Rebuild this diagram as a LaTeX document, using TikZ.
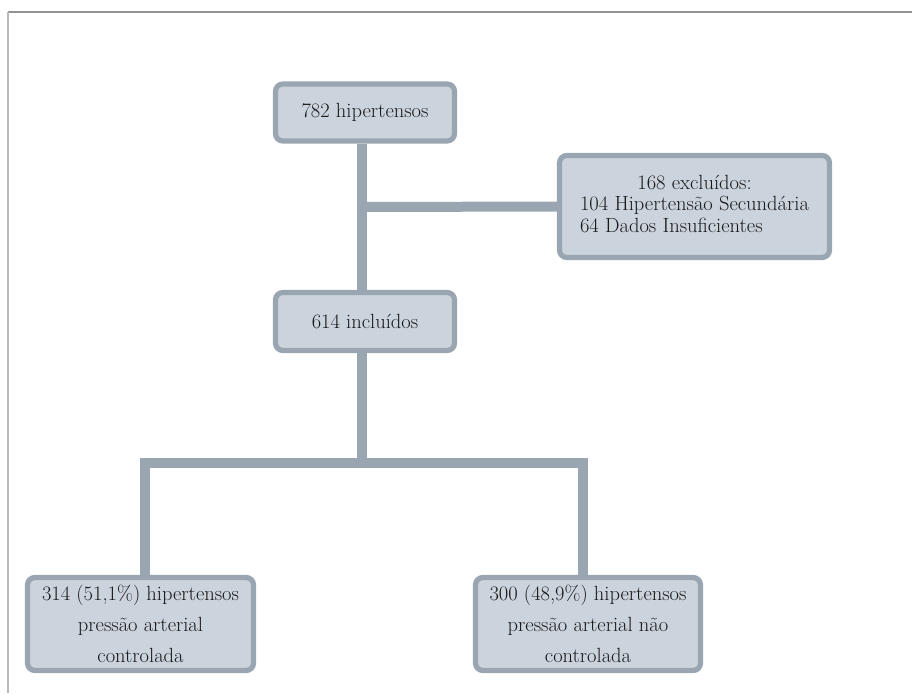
\documentclass[tikz,border=0pt]{standalone}
\usepackage{fontspec}
\setmainfont{Latin Modern Roman}
\usetikzlibrary{backgrounds}
\begin{document}
\begin{tikzpicture}[x=0.75pt,y=-0.75pt,
  box/.style={draw=boxline, fill=boxfill, line width=3.9pt, rounded corners=5.5pt,
    inner sep=0pt, align=center, font=\fontsize{15.4}{16}\selectfont, text=black!90},
  tallbox/.style={box, font=\fontsize{15.4}{23}\selectfont},
  link/.style={draw=boxline, line width=7.5pt},
  frameline/.style={line width=1.3pt}]
\definecolor{boxline}{HTML}{99A5B1}
\definecolor{boxfill}{HTML}{CBD3DD}
\useasboundingbox (0,0) rectangle (912,693);
\draw[frameline, draw=gray!85] (8,12) -- (912,12);
\draw[frameline, draw=gray!55] (8,12) -- (8,693);
% nodes
\node[box, minimum width=134.25pt, minimum height=42.75pt] (n1) at (365,112.5) {782 hipertensos};
\node[box, minimum width=202.5pt, minimum height=76.5pt] (n2) at (694.5,206.5)
  {\begin{tabular}{@{}l@{}}\multicolumn{1}{@{}c@{}}{168 excluídos:}\\104 Hipertensão Secundária\\64 Dados Insuficientes\end{tabular}};
\node[box, minimum width=134.25pt, minimum height=43.5pt] (n3) at (365,321.5) {614 incluídos};
\node[tallbox, minimum width=169.5pt, minimum height=69.75pt] (n4) at (140.5,624)
  {314 (51,1\%) hipertensos\\pressão arterial\\controlada};
\node[tallbox, minimum width=168.75pt, minimum height=69.75pt] (n5) at (588,624)
  {300 (48,9\%) hipertensos\\pressão arterial não\\controlada};
% connector coordinates
\coordinate (j1) at (362,207);
\coordinate (j2) at (362,463);
\coordinate (jl) at (145,463);
\coordinate (jr) at (583,463);
\begin{pgfonlayer}{background}
\draw[link] (n1.south -| j1) -- (n3.north -| j1);
\draw[link] (j1) -- (n2.west);
\draw[link] (n3.south -| j2) -- (j2);
\draw[link, line cap=rect] (jl) -- (jr);
\draw[link] (jl) -- (jl |- n4.north);
\draw[link] (jr) -- (jr |- n5.north);
\end{pgfonlayer}
\end{tikzpicture}
\end{document}
